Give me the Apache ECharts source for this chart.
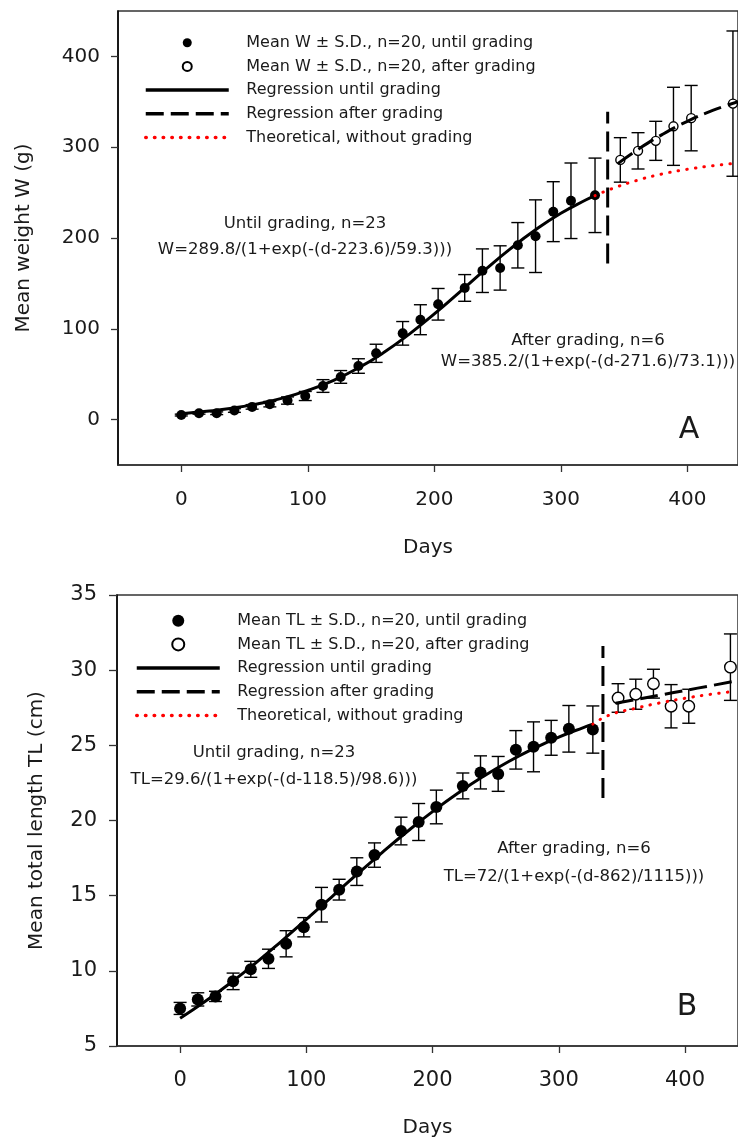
<!DOCTYPE html>
<html>
<head>
<meta charset="utf-8">
<script src="https://cdn.jsdelivr.net/npm/echarts@6/dist/echarts.min.js"></script>
<style>
  html, body { margin: 0; padding: 0; background: #fff; }
  #chart { width: 738px; height: 1139px; }
</style>
</head>
<body>
<div id="chart"></div>
<script>
// Sampling days
const dayUntil = [0, 14, 28, 42, 56, 70, 84, 98, 112, 126, 140, 154, 175, 189, 203, 224, 238, 252, 266, 280, 294, 308, 327];
const dayAfter = [347, 361, 375, 389, 403, 436];

// Panel A: mean weight (g) and S.D.
const wMeanUntil = [5, 7, 7, 10, 14, 17, 21, 26, 37, 47, 59, 73, 95, 110, 127, 145, 164, 167, 192, 202, 229, 241, 247];
const wSdUntil   = [1, 1, 1.5, 2, 2.5, 3, 4, 5, 7, 7, 8, 10, 13, 16.5, 17.4, 14.7, 24, 24.4, 25, 40, 33, 41.6, 41];
const wMeanAfter = [286, 296, 307, 323, 332, 348];
const wSdAfter   = [24.5, 20, 21.5, 43, 36, 80];

// Panel A: fitted curves (day, W)
const wFitUntilDays = [0, 20, 40, 60, 80, 100, 120, 140, 160, 180, 200, 220, 240, 260, 280, 300, 320, 327];
const wFitUntil     = [6.5, 9.1, 12.5, 17.3, 23.6, 32.1, 43.0, 56.9, 73.9, 93.9, 116.4, 140.5, 164.8, 188.0, 209.0, 227.2, 242.1, 246.7];
const wFitAfterDays = [345, 360, 380, 400, 420, 440];
const wFitAfter     = [281.9, 296.7, 313.9, 328.5, 340.5, 350.2];
const wTheoryDays   = [327, 340, 360, 380, 400, 420, 440];
const wTheory       = [246.7, 254.1, 263.4, 270.5, 275.7, 279.6, 282.5];
const wGradingDay = 337;
const wGradingSpan = [172, 339];

// Panel B: mean total length (cm) and S.D.
const tlMeanUntil = [7.5, 8.1, 8.3, 9.3, 10.1, 10.8, 11.8, 12.9, 14.4, 15.4, 16.6, 17.7, 19.3, 19.9, 20.9, 22.3, 23.2, 23.1, 24.7, 24.9, 25.5, 26.1, 26.05];
const tlSdUntil   = [0.4, 0.44, 0.34, 0.55, 0.53, 0.64, 0.87, 0.64, 1.15, 0.69, 0.92, 0.81, 0.92, 1.23, 1.12, 0.86, 1.1, 1.16, 1.28, 1.66, 1.16, 1.55, 1.57];
const tlMeanAfter = [28.15, 28.4, 29.1, 27.6, 27.6, 30.2];
const tlSdAfter   = [0.95, 1.0, 0.96, 1.44, 1.13, 2.21];

// Panel B: fitted curves (day, TL)
const tlFitUntilDays = [0, 20, 40, 60, 80, 100, 120, 140, 160, 180, 200, 220, 240, 260, 280, 300, 320, 327];
const tlFitUntil     = [6.84, 7.97, 9.20, 10.53, 11.95, 13.42, 14.91, 16.41, 17.87, 19.27, 20.59, 21.81, 22.92, 23.91, 24.78, 25.55, 26.20, 26.41];
const tlFitAfterDays = [345, 360, 380, 400, 420, 440];
const tlFitAfter     = [27.80, 28.03, 28.34, 28.65, 28.96, 29.27];
const tlTheoryDays   = [327, 340, 360, 380, 400, 420, 440];
const tlTheory       = [26.41, 27.01, 27.45, 27.82, 28.13, 28.39, 28.60];
const tlGradingDay = 335;
const tlGradingSpan = [21.5, 31.6];

// Tick labels
const dayTicks = [0, 100, 200, 300, 400];
const wTicks = [0, 100, 200, 300, 400];

// Legend / series names
const NAME_W_UNTIL = 'Mean W \u00b1 S.D., n=20, until grading';
const NAME_W_AFTER = 'Mean W \u00b1 S.D., n=20, after grading';
const NAME_TL_UNTIL = 'Mean TL \u00b1 S.D., n=20, until grading';
const NAME_TL_AFTER = 'Mean TL \u00b1 S.D., n=20, after grading';
const NAME_REG_UNTIL = 'Regression until grading';
const NAME_REG_AFTER = 'Regression after grading';
const NAME_THEORY = 'Theoretical, without grading';

const FONT = 'DejaVu Sans';
const INK = '#1a1a1a';
const NO_FILL = 'rgba(0,0,0,0)';

const zip = (xs, ys) => xs.map((x, i) => [x, ys[i]]);
const bars = (xs, m, sd) => xs.map((x, i) => [x, m[i] - sd[i], m[i] + sd[i]]);

function errorBarSeries(gi, data, capHalf) {
  return {
    type: 'custom',
    xAxisIndex: gi, yAxisIndex: gi,
    silent: true,
    z: 2,
    data: data,
    renderItem: function (params, api) {
      const x = api.value(0);
      const lo = api.coord([x, api.value(1)]);
      const hi = api.coord([x, api.value(2)]);
      const st = { stroke: '#000', lineWidth: 1.4 };
      return {
        type: 'group',
        children: [
          { type: 'line', shape: { x1: hi[0], y1: hi[1], x2: lo[0], y2: lo[1] }, style: st },
          { type: 'line', shape: { x1: hi[0] - capHalf, y1: hi[1], x2: hi[0] + capHalf, y2: hi[1] }, style: st },
          { type: 'line', shape: { x1: lo[0] - capHalf, y1: lo[1], x2: lo[0] + capHalf, y2: lo[1] }, style: st }
        ]
      };
    }
  };
}

function panelSeries(gi, o) {
  return [
    errorBarSeries(gi, bars(dayUntil, o.meanUntil, o.sdUntil), 6.5),
    errorBarSeries(gi, bars(dayAfter, o.meanAfter, o.sdAfter), 6.5),
    {
      name: o.nameUntil, type: 'scatter', xAxisIndex: gi, yAxisIndex: gi, z: 3,
      symbol: 'circle', symbolSize: o.dotSize,
      itemStyle: { color: '#000', opacity: 1 },
      data: zip(dayUntil, o.meanUntil)
    },
    {
      name: o.nameAfter, type: 'scatter', xAxisIndex: gi, yAxisIndex: gi, z: 3,
      symbol: 'circle', symbolSize: o.openSize,
      itemStyle: { color: '#fff', borderColor: '#000', borderWidth: 1.4, opacity: 1 },
      data: zip(dayAfter, o.meanAfter)
    },
    {
      name: NAME_REG_UNTIL, type: 'line', xAxisIndex: gi, yAxisIndex: gi, z: 4,
      symbol: 'none', smooth: true,
      itemStyle: { color: NO_FILL },
      lineStyle: { color: '#000', width: 3 },
      data: zip(o.fitUntilDays, o.fitUntil)
    },
    {
      name: NAME_REG_AFTER, type: 'line', xAxisIndex: gi, yAxisIndex: gi, z: 4,
      symbol: 'none', smooth: true,
      itemStyle: { color: NO_FILL },
      lineStyle: { color: '#000', width: 3, type: [18, 7] },
      data: zip(o.fitAfterDays, o.fitAfter)
    },
    {
      name: NAME_THEORY, type: 'line', xAxisIndex: gi, yAxisIndex: gi, z: 5,
      symbol: 'none', smooth: true,
      itemStyle: { color: NO_FILL },
      lineStyle: { color: '#ff0000', width: 3, type: [0.5, 8.2], cap: 'round' },
      data: zip(o.theoryDays, o.theory)
    },
    {
      name: 'grading', type: 'line', xAxisIndex: gi, yAxisIndex: gi, z: 4,
      symbol: 'none',
      lineStyle: { color: '#000', width: 3, type: [20, 8] },
      data: [[o.gradingDay, o.gradingSpan[0]], [o.gradingDay, o.gradingSpan[1]]]
    }
  ];
}

function xAxisCfg(gi, fontSize, nameGap, margin) {
  return {
    type: 'value', gridIndex: gi, min: -50, max: 440,
    name: 'Days', nameLocation: 'middle', nameGap: nameGap,
    nameTextStyle: { fontFamily: FONT, fontSize: 20, color: INK },
    axisLine: { show: true, onZero: false, lineStyle: { color: '#333', width: 1.5 } },
    axisTick: { show: true, length: 7, customValues: dayTicks, lineStyle: { color: '#333', width: 1.3 } },
    axisLabel: { customValues: dayTicks, margin: margin, fontFamily: FONT, fontSize: fontSize, color: INK },
    splitLine: { show: false }
  };
}

function legendCfg(left, top, iconH, names) {
  return {
    orient: 'vertical', left: left, top: top, padding: 0,
    itemWidth: 83, itemHeight: iconH, itemGap: 7.7,
    selectedMode: false,
    lineStyle: { width: 3.5 },
    textStyle: { fontFamily: FONT, fontSize: 16, color: INK, lineHeight: 16, padding: [0, 0, 0, 12.5] },
    data: names
  };
}

function textEl(x, y, str, size) {
  return {
    type: 'text', x: x, y: y,
    style: { text: str, fontFamily: FONT, fontSize: size || 16.5, fill: INK, align: 'center', verticalAlign: 'middle' }
  };
}

const chart = echarts.init(document.getElementById('chart'), null, { renderer: 'canvas' });

const option = {
  animation: false,
  backgroundColor: '#fff',
  grid: [
    { left: 118, top: 11, right: -2, bottom: 674, show: true, borderColor: '#333', borderWidth: 1.5 },
    { left: 117, top: 595, right: -2, bottom: 92, show: true, borderColor: '#333', borderWidth: 1.5 }
  ],
  xAxis: [xAxisCfg(0, 20, 73, 25), Object.assign(xAxisCfg(1, 21, 72, 24), { max: 442 })],
  yAxis: [
    {
      type: 'value', gridIndex: 0, min: -50, max: 450,
      name: 'Mean weight W (g)', nameLocation: 'middle', nameGap: 84,
      nameTextStyle: { fontFamily: FONT, fontSize: 20, color: INK },
      axisLine: { show: true, onZero: false, lineStyle: { color: '#000', width: 1.5 } },
      axisTick: { show: true, length: 7, customValues: wTicks, lineStyle: { color: '#333', width: 1.3 } },
      axisLabel: { customValues: wTicks, margin: 18, fontFamily: FONT, fontSize: 20, color: INK },
      splitLine: { show: false }
    },
    {
      type: 'value', gridIndex: 1, min: 5, max: 35, interval: 5,
      name: 'Mean total length TL (cm)', nameLocation: 'middle', nameGap: 70,
      nameTextStyle: { fontFamily: FONT, fontSize: 20, color: INK },
      axisLine: { show: true, onZero: false, lineStyle: { color: '#000', width: 1.5 } },
      axisTick: { show: true, length: 8, lineStyle: { color: '#333', width: 1.3 } },
      axisLabel: { margin: 20, fontFamily: FONT, fontSize: 21, color: INK },
      splitLine: { show: false }
    }
  ],
  legend: [
    legendCfg(144, 34.7, 9, [NAME_W_UNTIL, NAME_W_AFTER, NAME_REG_UNTIL, NAME_REG_AFTER, NAME_THEORY]),
    legendCfg(135, 612.7, 12, [NAME_TL_UNTIL, NAME_TL_AFTER, NAME_REG_UNTIL, NAME_REG_AFTER, NAME_THEORY])
  ],
  graphic: [
    textEl(305, 224, 'Until grading, n=23'),
    textEl(305, 250, 'W=289.8/(1+exp(-(d-223.6)/59.3)))'),
    textEl(588, 341, 'After grading, n=6'),
    textEl(588, 362, 'W=385.2/(1+exp(-(d-271.6)/73.1)))'),
    textEl(689, 430, 'A', 30),
    textEl(274, 753, 'Until grading, n=23'),
    textEl(274, 780, 'TL=29.6/(1+exp(-(d-118.5)/98.6)))'),
    textEl(574, 849, 'After grading, n=6'),
    textEl(574, 877, 'TL=72/(1+exp(-(d-862)/1115)))'),
    textEl(687, 1007, 'B', 30)
  ],
  series: [].concat(
    panelSeries(0, {
      meanUntil: wMeanUntil, sdUntil: wSdUntil, meanAfter: wMeanAfter, sdAfter: wSdAfter,
      nameUntil: NAME_W_UNTIL, nameAfter: NAME_W_AFTER, dotSize: 10, openSize: 9,
      fitUntilDays: wFitUntilDays, fitUntil: wFitUntil, fitAfterDays: wFitAfterDays, fitAfter: wFitAfter,
      theoryDays: wTheoryDays, theory: wTheory, gradingDay: wGradingDay, gradingSpan: wGradingSpan
    }),
    panelSeries(1, {
      meanUntil: tlMeanUntil, sdUntil: tlSdUntil, meanAfter: tlMeanAfter, sdAfter: tlSdAfter,
      nameUntil: NAME_TL_UNTIL, nameAfter: NAME_TL_AFTER, dotSize: 12, openSize: 11.5,
      fitUntilDays: tlFitUntilDays, fitUntil: tlFitUntil, fitAfterDays: tlFitAfterDays, fitAfter: tlFitAfter,
      theoryDays: tlTheoryDays, theory: tlTheory, gradingDay: tlGradingDay, gradingSpan: tlGradingSpan
    })
  )
};

chart.setOption(option);
</script>
</body>
</html>
